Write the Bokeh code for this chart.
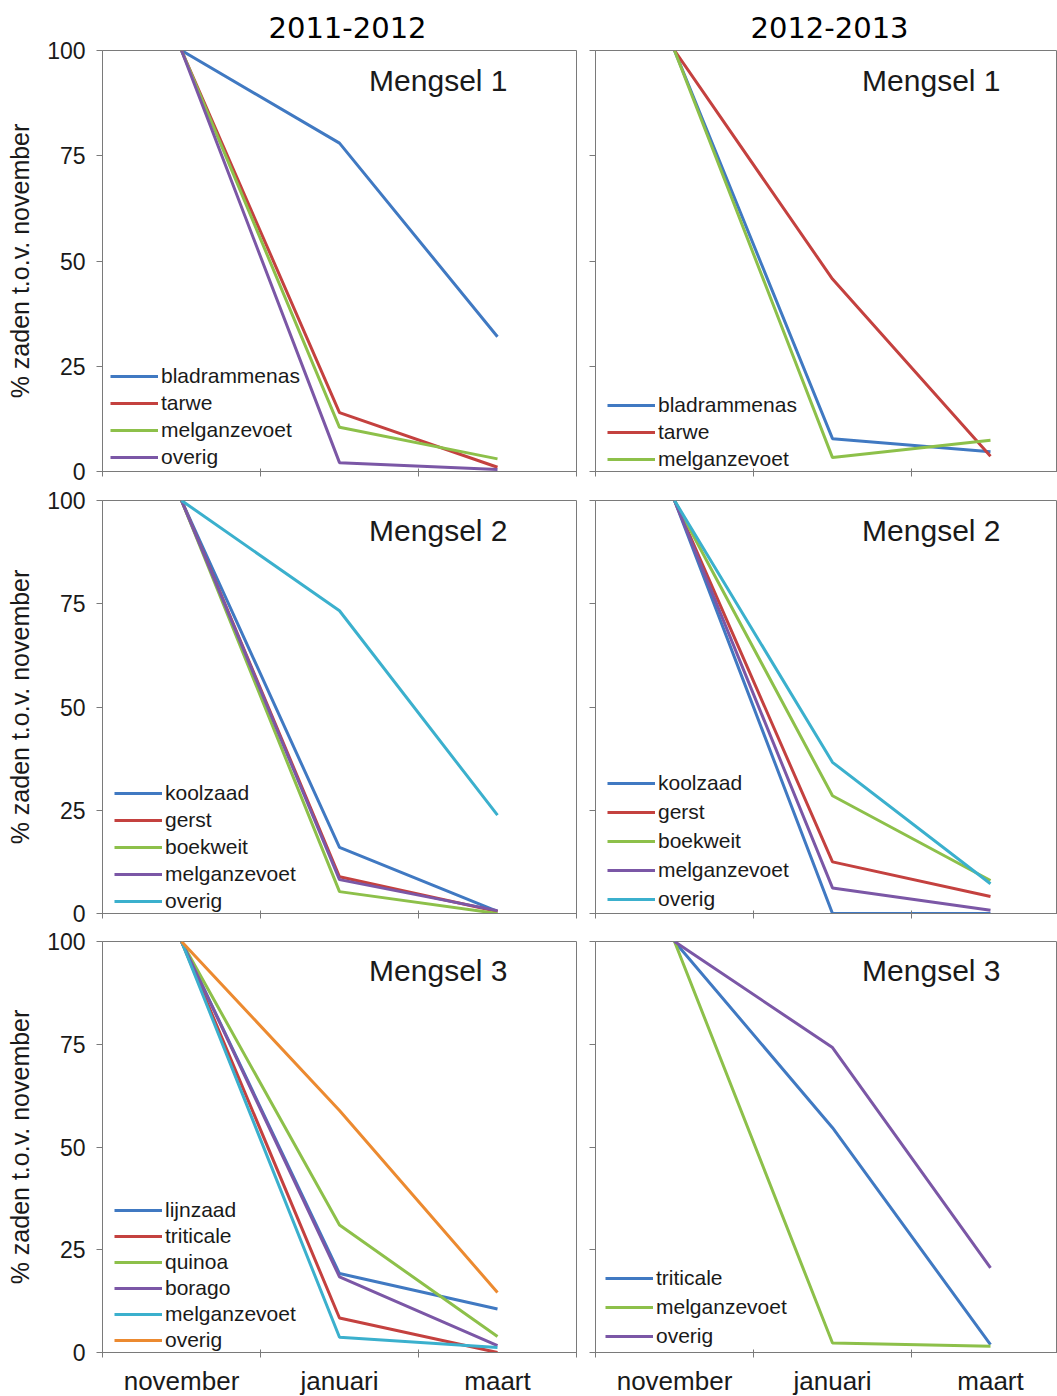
from bokeh.plotting import figure
from bokeh.models import (Range1d, FixedTicker, Legend, LegendItem, Label)
from bokeh.layouts import column, row
from bokeh.embed import file_html
from bokeh.resources import INLINE

# ---------------- data ----------------
months = ["november", "januari", "maart"]
seasons = ["2011-2012", "2012-2013"]
y_ticks = [0, 25, 50, 75, 100]

# 2011-2012
m1a_names = ["bladrammenas", "tarwe", "melganzevoet", "overig"]
m1a_bladrammenas = [100, 78, 32]
m1a_tarwe = [100, 14, 1]
m1a_melganzevoet = [100, 10.5, 3]
m1a_overig = [100, 2.1, 0.5]

m2a_names = ["koolzaad", "gerst", "boekweit", "melganzevoet", "overig"]
m2a_koolzaad = [100, 16, 0.5]
m2a_gerst = [100, 8.9, 0.5]
m2a_boekweit = [100, 5.3, 0]
m2a_melganzevoet = [100, 8.2, 0.7]
m2a_overig = [100, 73.3, 23.8]

m3a_names = ["lijnzaad", "triticale", "quinoa", "borago", "melganzevoet", "overig"]
m3a_lijnzaad = [100, 19.2, 10.6]
m3a_triticale = [100, 8.4, 0]
m3a_quinoa = [100, 31, 3.9]
m3a_borago = [100, 18.4, 1.7]
m3a_melganzevoet = [100, 3.7, 1.2]
m3a_overig = [100, 58.9, 14.6]

# 2012-2013
m1b_names = ["bladrammenas", "tarwe", "melganzevoet"]
m1b_bladrammenas = [100, 7.8, 4.7]
m1b_tarwe = [100, 45.7, 3.6]
m1b_melganzevoet = [100, 3.3, 7.4]

m2b_names = ["koolzaad", "gerst", "boekweit", "melganzevoet", "overig"]
m2b_koolzaad = [100, 0, 0]
m2b_gerst = [100, 12.5, 4.1]
m2b_boekweit = [100, 28.5, 8.0]
m2b_melganzevoet = [100, 6.2, 0.8]
m2b_overig = [100, 36.6, 7.2]

m3b_names = ["triticale", "melganzevoet", "overig"]
m3b_triticale = [100, 54.7, 1.9]
m3b_melganzevoet = [100, 2.3, 1.5]
m3b_overig = [100, 74.2, 20.6]

# ---------------- styles ----------------
BLUE = "#4079C2"
RED = "#C4413F"
GREEN = "#8DC04A"
PURPLE = "#7B57A6"
CYAN = "#3BB0CD"
ORANGE = "#EC8A30"
AXIS = "#7a7a7a"
TXT = "#1a1a1a"
ARIAL = "Liberation Sans"

panels = [
    # (season col, mix, names, series, colors, legend x, legend y, legend spacing)
    (0, 1, m1a_names, [m1a_bladrammenas, m1a_tarwe, m1a_melganzevoet, m1a_overig],
     [BLUE, RED, GREEN, PURPLE], 8, 2, 3),
    (1, 1, m1b_names, [m1b_bladrammenas, m1b_tarwe, m1b_melganzevoet],
     [BLUE, RED, GREEN], 12, 0, 3),
    (0, 2, m2a_names, [m2a_koolzaad, m2a_gerst, m2a_boekweit, m2a_melganzevoet, m2a_overig],
     [BLUE, RED, GREEN, PURPLE, CYAN], 12, 0, 3),
    (1, 2, m2b_names, [m2b_koolzaad, m2b_gerst, m2b_boekweit, m2b_melganzevoet, m2b_overig],
     [BLUE, RED, GREEN, PURPLE, CYAN], 12, 2, 5),
    (0, 3, m3a_names, [m3a_lijnzaad, m3a_triticale, m3a_quinoa, m3a_borago, m3a_melganzevoet, m3a_overig],
     [BLUE, RED, GREEN, PURPLE, CYAN, ORANGE], 12, 0, 2),
    (1, 3, m3b_names, [m3b_triticale, m3b_melganzevoet, m3b_overig],
     [BLUE, GREEN, PURPLE], 10, 4, 5),
]

# row geometry: (min_border_top, frame_height, min_border_bottom)
row_geom = {1: (50, 421, 15), 2: (14, 413, 14), 3: (14, 411, 44)}
title_offsets = [166, 155]

xs = [i + 0.5 for i in range(len(months))]
bounds = [float(i) for i in range(len(months) + 1)]
overrides = {x: m for x, m in zip(xs, months)}

figs = {}
for col, mix, names, series, colors, lx, ly, lsp in panels:
    top, fh, bot = row_geom[mix]
    if col == 0:
        fw, mbl, mbr, xend = 474, 102, 9, 3.0
    else:
        fw, mbl, mbr, xend = 462, 10, 0, 462 / 158.0
    p = figure(frame_width=fw, frame_height=fh, output_backend="svg",
               toolbar_location=None, tools="",
               x_range=Range1d(0, xend), y_range=Range1d(0, 100),
               min_border_left=mbl, min_border_right=mbr,
               min_border_top=top, min_border_bottom=bot)
    p.background_fill_color = "white"
    p.border_fill_color = "white"
    p.outline_line_color = AXIS
    p.outline_line_width = 1
    p.grid.visible = False

    if mix == 1:
        p.title.text = seasons[col]
        p.title.align = "left"
        p.title.offset = title_offsets[col]
        p.title.standoff = 25
        p.title.text_font = "DejaVu Sans"
        p.title.text_font_size = "29px"
        p.title.text_font_style = "normal"
        p.title.text_color = "black"

    # y axis
    ya = p.yaxis[0]
    ya.axis_line_color = AXIS
    ya.major_tick_line_color = AXIS
    ya.minor_tick_line_color = AXIS
    ya.major_tick_out = 6
    ya.major_tick_in = 0
    ya.minor_tick_out = 6
    ya.minor_tick_in = 0
    if col == 0:
        ya.ticker = FixedTicker(ticks=y_ticks, minor_ticks=[])
        ya.axis_label = "% zaden t.o.v. november"
        ya.axis_label_text_font = ARIAL
        ya.axis_label_text_font_size = "25px"
        ya.axis_label_text_font_style = "normal"
        ya.axis_label_text_color = TXT
        ya.axis_label_standoff = 10
        ya.major_label_text_font = ARIAL
        ya.major_label_text_font_size = "23px"
        ya.major_label_text_color = TXT
        ya.major_label_standoff = 11
    else:
        # ticks only, no labels
        ya.ticker = FixedTicker(ticks=[], minor_ticks=y_ticks)

    # x axis: labels at category centres, ticks at boundaries
    xa = p.xaxis[0]
    xa.axis_line_color = AXIS
    xa.major_tick_line_color = None
    xa.minor_tick_line_color = AXIS
    xa.minor_tick_out = 5
    xa.minor_tick_in = 3
    xa.major_tick_out = 0
    xa.major_tick_in = 0
    if mix == 3:
        xa.ticker = FixedTicker(ticks=xs, minor_ticks=bounds)
        xa.major_label_overrides = overrides
        xa.major_label_text_font = ARIAL
        xa.major_label_text_font_size = "26px"
        xa.major_label_text_color = TXT
        xa.major_label_standoff = 8
    else:
        xa.ticker = FixedTicker(ticks=[], minor_ticks=bounds)

    items = []
    for name, vals, c in zip(names, series, colors):
        r = p.line(xs, vals, line_color=c, line_width=3)
        items.append(LegendItem(label=name, renderers=[r]))

    leg = Legend(items=items, location=(lx, ly), padding=0, margin=0,
                 spacing=lsp, glyph_width=48, glyph_height=20, label_height=20,
                 label_standoff=3, label_text_font=ARIAL,
                 label_text_font_size="21px", label_text_color=TXT,
                 border_line_alpha=0, background_fill_alpha=0)
    p.add_layout(leg, "center")

    p.add_layout(Label(x=405 / 158.0, y=100 - 30 / 4.18, text="Mengsel %d" % mix,
                       text_align="right", text_baseline="middle",
                       text_font=ARIAL, text_font_size="30px", text_color=TXT))
    figs[(col, mix)] = p

layout = column(
    row(figs[(0, 1)], figs[(1, 1)]),
    row(figs[(0, 2)], figs[(1, 2)]),
    row(figs[(0, 3)], figs[(1, 3)]),
)

open("out.html", "w").write(file_html(layout, INLINE))
